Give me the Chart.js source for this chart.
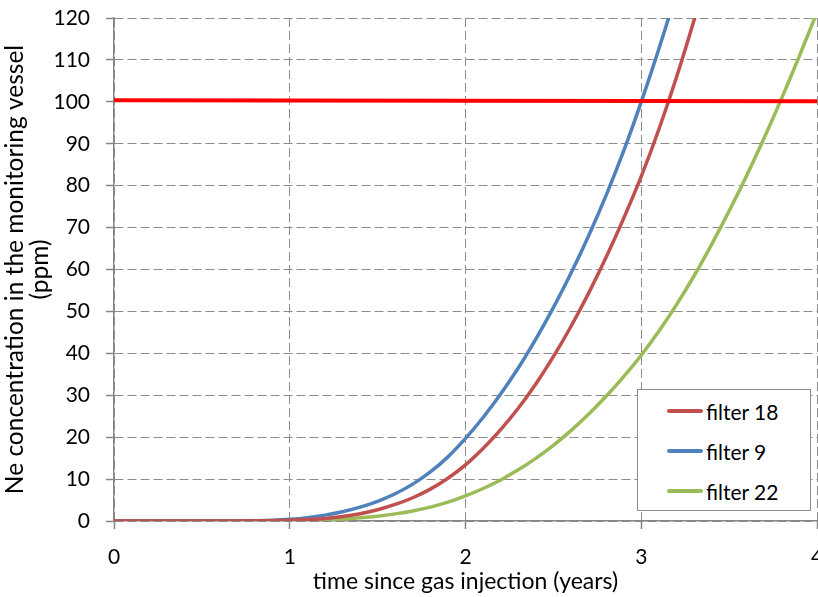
<!DOCTYPE html>
<html>
<head>
<meta charset="utf-8">
<script src="https://cdn.jsdelivr.net/npm/chart.js@4/dist/chart.umd.min.js"></script>
<style>
  html, body { margin: 0; padding: 0; background: #fff; overflow: hidden; }
  #wrap { position: relative; width: 818px; height: 597px; overflow: hidden; }
  #box { position: absolute; left: 0; top: 0; width: 845px; height: 597px; }
  #legend {
    position: absolute; left: 637px; top: 389px; width: 174px; height: 122px;
    border: 1px solid #8c8c8c; background: #fff; box-sizing: border-box;
    font-family: Lato, "Open Sans", sans-serif; font-size: 21px; color: #000;
    padding-top: 1px;
  }
  .item { display: flex; align-items: center; height: 40px; }
  .swatch { width: 36px; height: 4px; border-radius: 2px; margin-left: 29px; margin-right: 3px; }
</style>
</head>
<body>
<div id="wrap">
  <div id="box"><canvas id="c"></canvas></div>
  <div id="legend"></div>
</div>
<script>
// time axis (years)
const years = [0, 0.1, 0.2, 0.3, 0.4, 0.5, 0.6, 0.7, 0.8, 0.9, 1.0,
               1.1, 1.2, 1.3, 1.4, 1.5, 1.6, 1.7, 1.8, 1.9, 2.0,
               2.1, 2.2, 2.3, 2.4, 2.5, 2.6, 2.7, 2.8, 2.9, 3.0,
               3.1, 3.2, 3.3, 3.4, 3.5, 3.6, 3.7, 3.8, 3.9, 4.0];

// Ne concentration (ppm) per filter
const filter18 = [0, 0, 0, 0, 0, 0, 0, 0.01, 0.03, 0.08, 0.2,
                  0.35, 0.6, 1.05, 1.75, 2.7, 3.95, 5.55, 7.6, 10.2, 13.4,
                  17.3, 21.8, 26.9, 32.7, 39.2, 46.4, 54.3, 62.9, 72.2, 82.2,
                  93.4, 105.8, 119.4, 134, 150, 167, 185, 204, 224, 245];
const filter9  = [0, 0, 0, 0, 0, 0, 0, 0.02, 0.06, 0.16, 0.4,
                  0.8, 1.4, 2.2, 3.3, 4.7, 6.5, 8.8, 11.7, 15.3, 19.7,
                  24.7, 30.3, 36.5, 43.4, 50.9, 59.1, 68.0, 77.7, 88.3, 100.0,
                  112.6, 126.1, 140.6, 156, 172, 189, 207, 226, 246, 267];
const filter22 = [0, 0, 0, 0, 0, 0, 0, 0, 0.01, 0.02, 0.05,
                  0.12, 0.25, 0.45, 0.75, 1.15, 1.7, 2.4, 3.3, 4.5, 6.0,
                  7.75, 9.8, 12.2, 14.95, 18.05, 21.55, 25.45, 29.75, 34.45, 39.55,
                  45.25, 51.55, 58.45, 65.95, 73.95, 82.45, 91.45, 100.95, 110.95, 121.35];

// regulatory limit line (ppm)
const limitYears = [0, 4];
const limitPpm = [100.35, 100.15];

const seriesNames = ['filter 18', 'filter 9', 'filter 22'];
const seriesColors = ['#C0504D', '#4F81BD', '#9BBB59'];

const xTicks = [0, 1, 2, 3, 4];
const yTicks = [0, 10, 20, 30, 40, 50, 60, 70, 80, 90, 100, 110, 120];

const pts = (xs, ys) => xs.map((x, i) => ({ x: x, y: ys[i] }));
const FONT = 'Lato, "Open Sans", sans-serif';

const lineDs = (label, xs, ys, color) => ({
  label: label, data: pts(xs, ys), borderColor: color, backgroundColor: color,
  borderWidth: 3.5, pointRadius: 0, cubicInterpolationMode: 'monotone',
  borderCapStyle: 'round', fill: false
});

const datasets = [
  lineDs(seriesNames[0], years, filter18, seriesColors[0]),
  lineDs(seriesNames[1], years, filter9, seriesColors[1]),
  lineDs(seriesNames[2], years, filter22, seriesColors[2]),
  { label: 'limit', data: pts(limitYears, limitPpm), borderColor: '#FF0000',
    borderWidth: 4, pointRadius: 0, fill: false, order: -1 }
];

const gridStyle = {
  color: '#8c8c8c', lineWidth: 1,
  tickColor: '#868686', tickBorderDash: [], tickLength: 8, tickWidth: 1.5
};
const borderStyle = { color: '#868686', width: 1.5, dash: [9, 4] };

new Chart(document.getElementById('c'), {
  type: 'line',
  data: { datasets: datasets },
  options: {
    responsive: true, maintainAspectRatio: false, animation: false,
    layout: { padding: { top: 18, right: 28, left: 0, bottom: 0 } },
    plugins: { legend: { display: false }, tooltip: { enabled: false } },
    scales: {
      x: {
        type: 'linear', min: 0, max: 4,
        afterBuildTicks: s => { s.ticks = xTicks.map(v => ({ value: v })); },
        grid: gridStyle,
        border: borderStyle,
        ticks: { font: { family: FONT, size: 21 }, color: '#000', padding: 16, maxRotation: 0 },
        title: { display: true, text: 'time since gas injection (years)',
                 font: { family: FONT, size: 23 }, color: '#000', padding: { top: 0, bottom: 2 } },
        afterFit: s => { s.height = 76; s.paddingLeft = 0; s.paddingRight = 0; }
      },
      y: {
        type: 'linear', min: 0, max: 120,
        afterBuildTicks: s => { s.ticks = yTicks.map(v => ({ value: v })); },
        grid: gridStyle,
        border: borderStyle,
        ticks: { font: { family: FONT, size: 21 }, color: '#000', padding: 16 },
        title: { display: true, text: ['Ne concentration in the monitoring vessel', '(ppm)'],
                 font: { family: FONT, size: 24.5, lineHeight: 1.0 }, color: '#000', padding: { top: 3, bottom: 0 } },
        afterFit: s => { s.width = 114; s.paddingTop = 0; s.paddingBottom = 0; }
      }
    }
  }
});

// legend built from the series names and colours
const legend = document.getElementById('legend');
seriesNames.forEach((name, i) => {
  const row = document.createElement('div');
  row.className = 'item';
  const sw = document.createElement('span');
  sw.className = 'swatch';
  sw.style.background = seriesColors[i];
  const tx = document.createElement('span');
  tx.textContent = name;
  row.appendChild(sw); row.appendChild(tx);
  legend.appendChild(row);
});
</script>
</body>
</html>
